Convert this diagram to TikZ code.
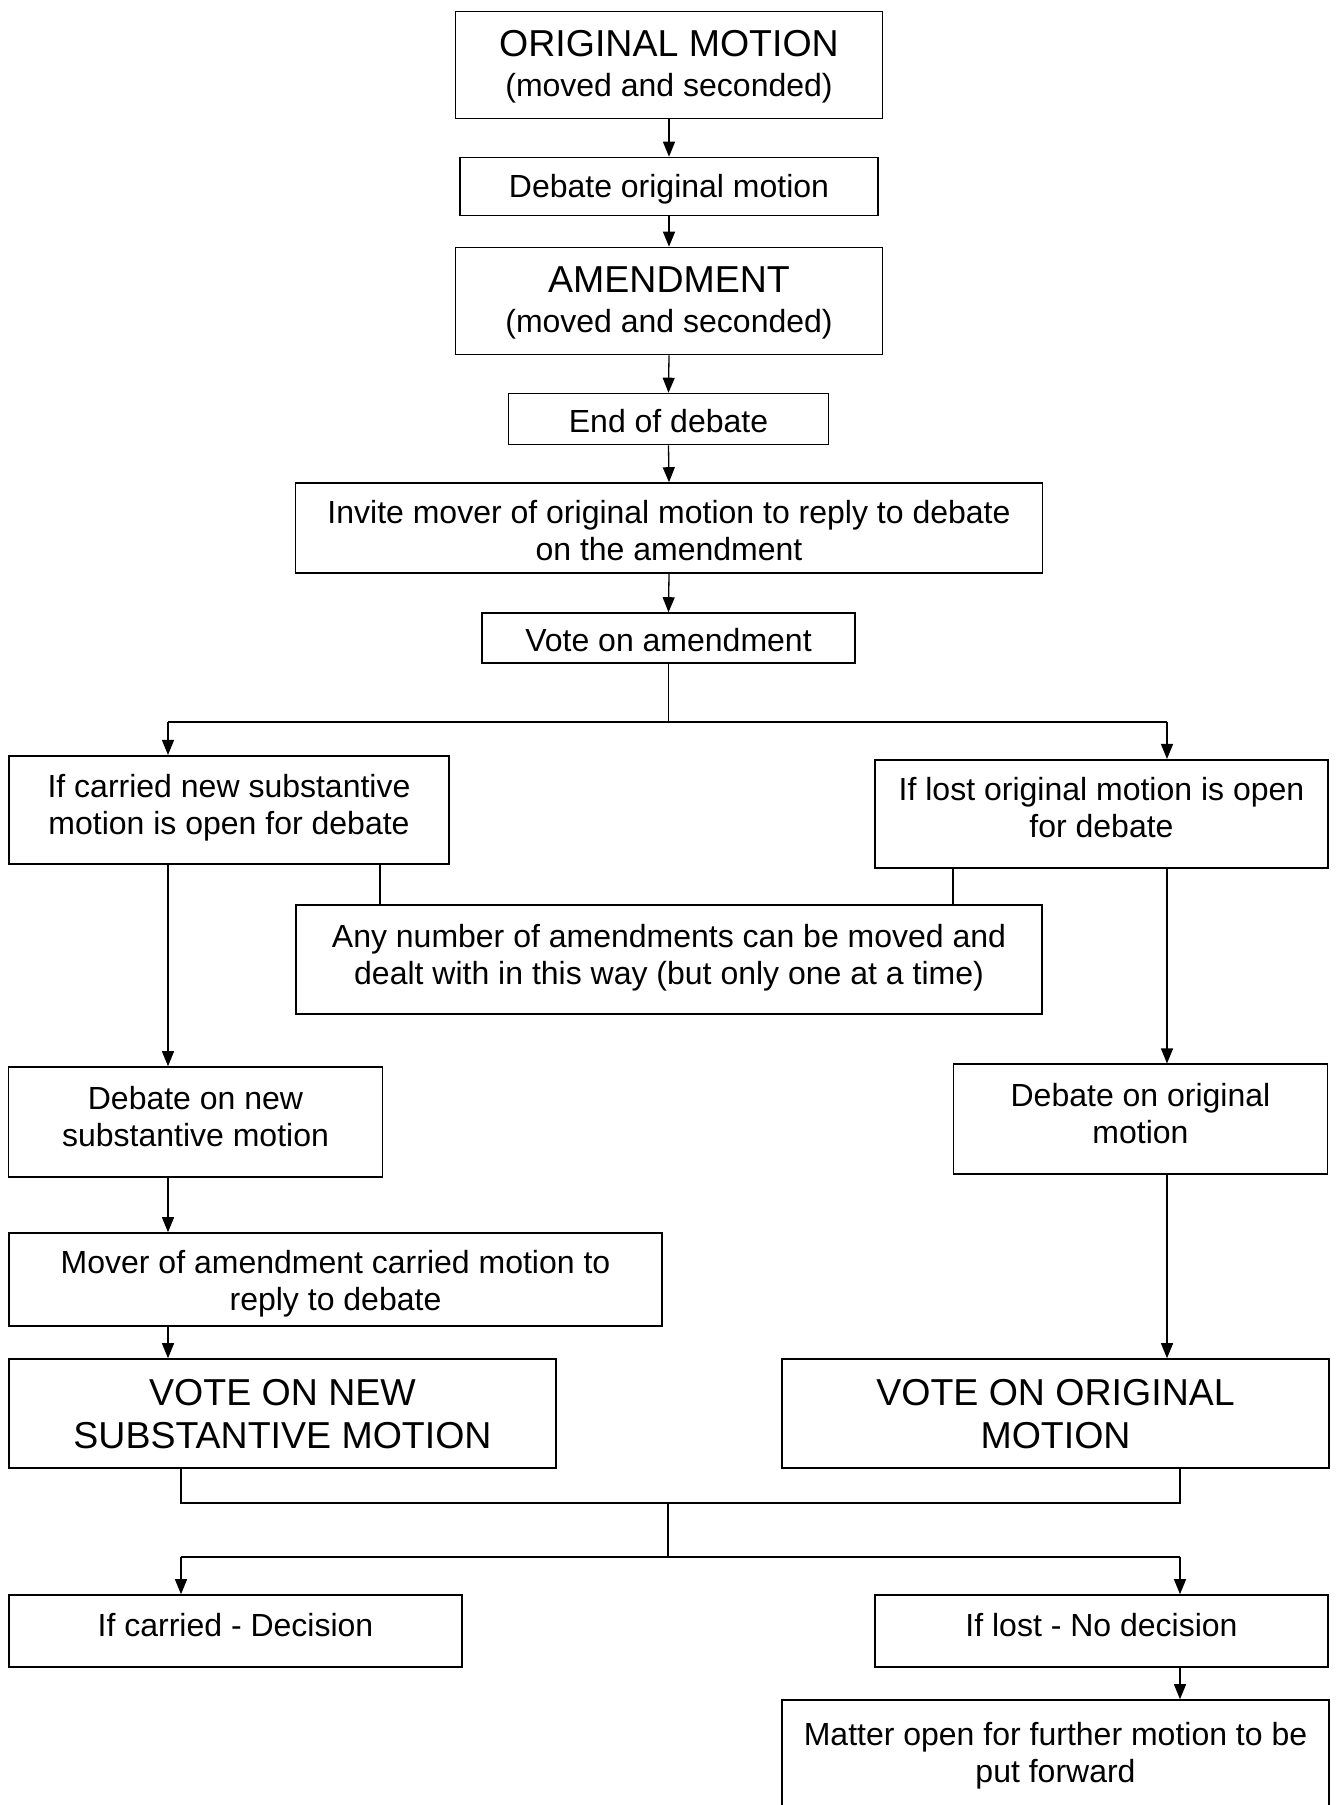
\documentclass[tikz,border=0pt]{standalone}
\usepackage{fontspec}
\setmainfont{Liberation Sans}
\usetikzlibrary{arrows.meta}
\newcommand\nsz{\fontsize{32}{37}\selectfont}
\newcommand\bsz{\fontsize{37.5}{43}\selectfont}
\begin{document}
\begin{tikzpicture}[x=1pt,y=-1pt,
  box/.style={draw, line width=1.6pt, inner sep=0pt, rectangle},
  txt/.style={align=center, inner sep=0pt, font=\nsz},
  bigtxt/.style={align=center, inner sep=0pt, font=\bsz},
  conn/.style={line width=1.3pt},
  arr/.style={line width=1.3pt, -{Triangle[length=15pt,width=12pt]}}]
\useasboundingbox (0,0) rectangle (1336,1805);
\clip (0,0) rectangle (1336,1805);
\fill[white] (0,0) rectangle (1336,1805);

% boxes
\node[box, minimum width=427, minimum height=107] (b1) at (669,65) {};
\node[box, minimum width=418, minimum height=58] (b2) at (669,186.5) {};
\node[box, minimum width=427, minimum height=107] (b3) at (669,301) {};
\node[box, minimum width=320, minimum height=51] (b4) at (668.5,419) {};
\node[box, minimum width=747, minimum height=90] (b5) at (669,528) {};
\node[box, minimum width=373, minimum height=50] (b6) at (668.5,638) {};
\node[box, minimum width=440, minimum height=108.5] (b7) at (229,810) {};
\node[box, minimum width=453, minimum height=108.5] (b8) at (1101.5,814) {};
\node[box, minimum width=746, minimum height=109] (bm) at (669,959.5) {};
\node[box, minimum width=374, minimum height=110] (b9) at (195.5,1122) {};
\node[box, minimum width=374, minimum height=109.5] (b10) at (1140.5,1119) {};
\node[box, minimum width=653.5, minimum height=93] (b11) at (335.5,1279.5) {};
\node[box, minimum width=547, minimum height=109] (b12) at (282.5,1413.5) {};
\node[box, minimum width=547, minimum height=109] (b13) at (1055.5,1413.5) {};
\node[box, minimum width=453, minimum height=72] (b14) at (235.5,1631) {};
\node[box, minimum width=453, minimum height=72] (b15) at (1101.5,1631) {};
\node[box, minimum width=547, minimum height=130] (b16) at (1055.5,1765) {};

% texts
\node[txt] (t1) at (669,67) {{\bsz ORIGINAL MOTION}\\[3pt](moved and seconded)};
\node[txt] (t2) at (669,189) {Debate original motion};
\node[txt] (t3) at (669,303) {{\bsz AMENDMENT}\\[3pt](moved and seconded)};
\node[txt] (t4) at (668.5,421) {End of debate};
\node[txt] (t5) at (669,530.5) {Invite mover of original motion to reply to debate\\on the amendment};
\node[txt] (t6) at (668.5,639.8) {Vote on amendment};
\node[txt] (t7) at (229,807.5) {If carried new substantive\\motion is open for debate};
\node[txt] (t8) at (1101.5,807.8) {If lost original motion is open\\for debate};
\node[txt] (tm) at (669,957.5) {Any number of amendments can be moved and\\dealt with in this way (but only one at a time)};
\node[txt] (t9) at (195.5,1117) {Debate on new\\substantive motion};
\node[txt] (t10) at (1140.5,1114) {Debate on original\\motion};
\node[txt] (t11) at (335.5,1284) {Mover of amendment carried motion to\\reply to debate};
\node[bigtxt] (t12) at (282.5,1414) {VOTE ON NEW\\SUBSTANTIVE MOTION};
\node[bigtxt] (t13) at (1055.5,1414) {VOTE ON ORIGINAL\\MOTION};
\node[txt] (t14) at (235.5,1624.8) {If carried - Decision};
\node[txt] (t15) at (1101.5,1624.8) {If lost - No decision};
\node[txt] (t16) at (1055.5,1756) {Matter open for further motion to be\\put forward};

% main column
\draw[arr] (b1.south) -- (b2.north);
\draw[arr] (b2.south) -- (b3.north);
\draw[arr] (b3.south) -- (b4.north);
\draw[arr] (b4.south) -- (b5.north);
\draw[arr] (b5.south) -- (b6.north);

% split after vote on amendment
\coordinate (cL) at (168,722);
\coordinate (cR) at (1167,722);
\draw[conn] (b6.south) -- (b6.south |- cL);
\draw[conn] (cL) -- (cR);
\draw[arr] (cL) -- (cL |- b7.north);
\draw[arr] (cR) -- (cR |- b8.north);

% links to the middle note
\coordinate (mL) at (380,900);
\coordinate (mR) at (953,900);
\draw[conn] (mL |- b7.south) -- (mL |- bm.north);
\draw[conn] (mR |- b8.south) -- (mR |- bm.north);

% left and right columns
\draw[arr] (cL |- b7.south) -- (cL |- b9.north);
\draw[arr] (cR |- b8.south) -- (cR |- b10.north);
\draw[arr] (cL |- b9.south) -- (cL |- b11.north);
\draw[arr] (cL |- b11.south) -- (cL |- b12.north);
\draw[arr] (cR |- b10.south) -- (cR |- b13.north);

% merge and final split
\coordinate (dL) at (181,1503);
\coordinate (dR) at (1180,1503);
\coordinate (dM) at (668,1503);
\coordinate (eL) at (181,1557);
\coordinate (eR) at (1180,1557);
\coordinate (eM) at (668,1557);
\draw[conn] (dL |- b12.south) -- (dL) -- (dR) -- (dR |- b13.south);
\draw[conn] (dM) -- (eM);
\draw[conn] (eL) -- (eR);
\draw[arr] (eL) -- (eL |- b14.north);
\draw[arr] (eR) -- (eR |- b15.north);
\draw[arr] (eR |- b15.south) -- (eR |- b16.north);
\end{tikzpicture}
\end{document}
